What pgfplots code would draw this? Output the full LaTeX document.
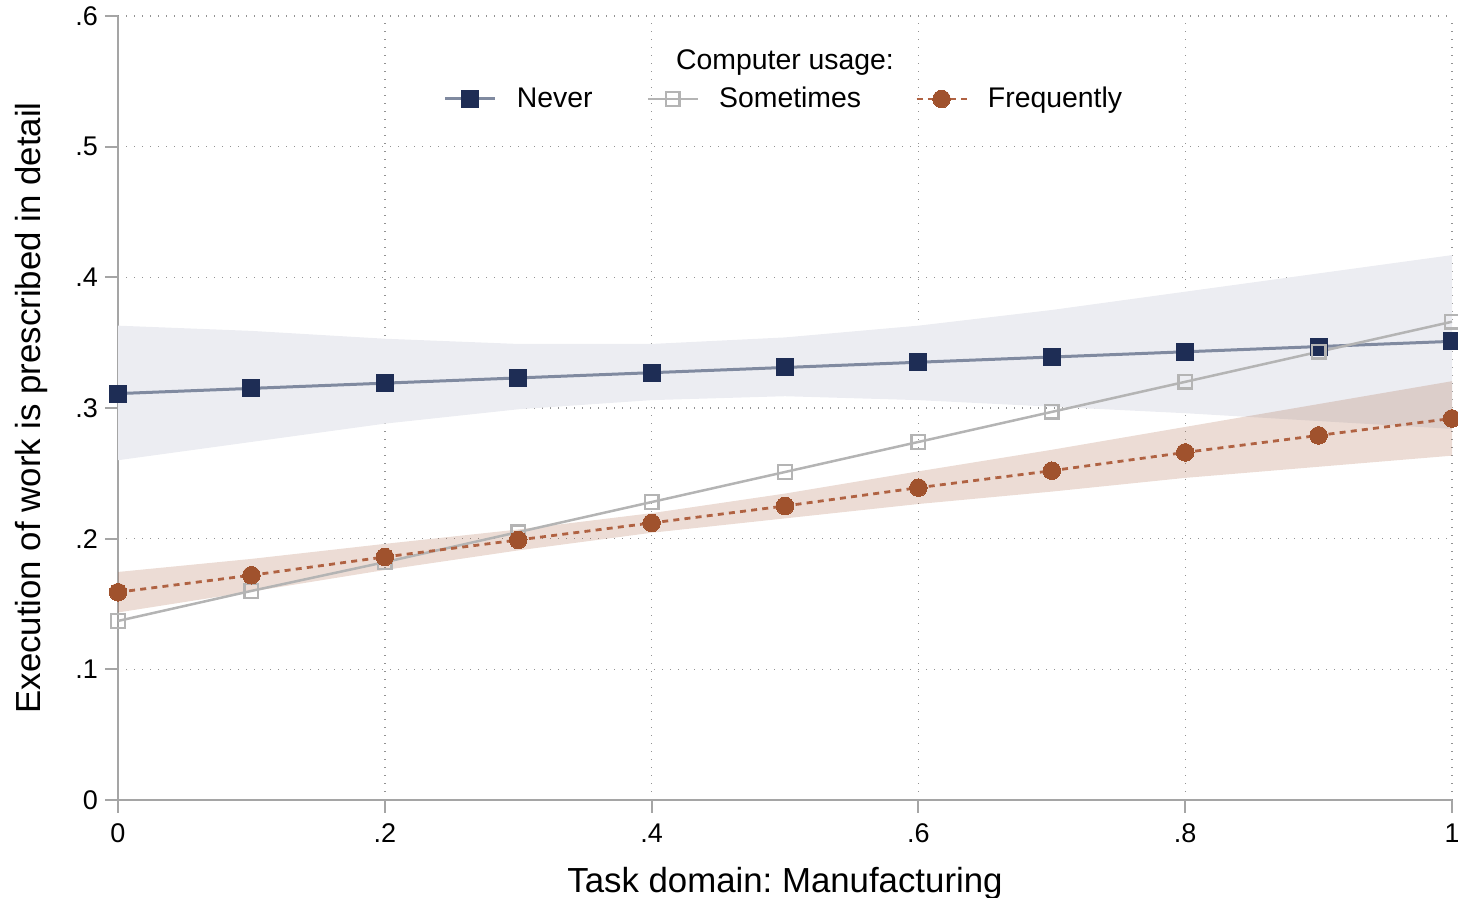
\documentclass[border=0pt]{standalone}
\usepackage{pgfplots}
\pgfplotsset{compat=1.18}
\usepackage{pgfplotstable}
\usepgfplotslibrary{fillbetween}
\usepackage{fontspec}
\setmainfont{Liberation Sans}
\frenchspacing
\definecolor{navy}{RGB}{30,45,85}
\definecolor{neverline}{RGB}{128,138,160}
\definecolor{neverband}{RGB}{236,237,242}
\definecolor{somegray}{RGB}{180,180,180}
\definecolor{sienna}{RGB}{160,82,45}
\definecolor{freqline}{RGB}{176,98,66}
\definecolor{axisgray}{RGB}{165,165,165}
\pgfplotstableread{
x   never nlo   nhi   some  freq  flo    fhi
0   0.311 0.260 0.363 0.137 0.159 0.1435 0.1745
0.1 0.315 0.274 0.359 0.160 0.172 0.1595 0.1845
0.2 0.319 0.288 0.353 0.182 0.186 0.176  0.196
0.3 0.323 0.299 0.349 0.205 0.199 0.191  0.207
0.4 0.327 0.306 0.349 0.228 0.212 0.2045 0.2195
0.5 0.331 0.309 0.354 0.251 0.225 0.2155 0.2345
0.6 0.335 0.306 0.363 0.274 0.239 0.2265 0.2515
0.7 0.339 0.301 0.375 0.297 0.252 0.236  0.268
0.8 0.343 0.296 0.389 0.320 0.266 0.2465 0.2855
0.9 0.347 0.290 0.403 0.343 0.279 0.255  0.303
1   0.351 0.284 0.417 0.366 0.292 0.2635 0.3205
}\data
\begin{document}
\begin{tikzpicture}
\begin{axis}[
  width=667pt, height=392pt, scale only axis,
  xmin=0, xmax=1, ymin=0, ymax=0.6,
  axis x line*=bottom, axis y line*=left,
  axis line style={axisgray, line width=1pt},
  xtick={0,0.2,0.4,0.6,0.8,1}, xticklabels={0,.2,.4,.6,.8,1},
  ytick={0,0.1,0.2,0.3,0.4,0.5,0.6}, yticklabels={0,.1,.2,.3,.4,.5,.6},
  tick align=outside, major tick length=6.5pt,
  tick style={axisgray, line width=1pt},
  grid=major,
  grid style={gray!85, line width=0.7pt, dash pattern=on 0.7pt off 3.3pt},
  ticklabel style={font=\fontsize{13.5}{16}\selectfont},
  xticklabel style={yshift=-2pt},
  xlabel={Task domain: Manufacturing},
  ylabel={Execution of work is prescribed in detail},
  every axis x label/.style={at={(rel axis cs:0.5,0)}, yshift=-42pt, anchor=center,
    font=\fontsize{17.4}{20}\selectfont},
  every axis y label/.style={at={(rel axis cs:0,0.5)}, xshift=-43pt, rotate=90, anchor=center,
    font=\fontsize{17.4}{20}\selectfont},
  clip=false,
  legend columns=3,
  legend style={at={(axis cs:0.5,0.5365)}, anchor=center, draw=none, fill=none,
    font=\fontsize{14.2}{16}\selectfont,
    /tikz/every odd column/.append style={column sep=8pt},
    /tikz/every even column/.append style={column sep=25pt}},
  legend cell align=left,
  legend image code/.code={\draw[mark repeat=2,mark phase=2] plot coordinates {(0pt,0pt)(12.5pt,0pt)(25pt,0pt)};},
]
\coordinate (SW) at (rel axis cs:0,0);
\coordinate (NE) at (rel axis cs:1,1);
% bands
\addplot[name path=nhi, draw=none, forget plot] table[x=x,y=nhi]{\data};
\addplot[name path=nlo, draw=none, forget plot] table[x=x,y=nlo]{\data};
\addplot[neverband, forget plot] fill between[of=nhi and nlo];
\addplot[name path=fhi, draw=none, forget plot] table[x=x,y=fhi]{\data};
\addplot[name path=flo, draw=none, forget plot] table[x=x,y=flo]{\data};
\addplot[sienna, fill opacity=0.2, forget plot] fill between[of=fhi and flo];
% lines
\addplot[neverline, line width=1.5pt, mark=square*, mark size=4.25pt,
  mark options={navy, fill=navy, solid, line width=0pt}] table[x=x,y=never]{\data};
\addlegendentry{Never}
\addplot[somegray, line width=1.25pt, mark=square, mark size=3.4pt,
  mark options={somegray, solid, line width=1.2pt, fill=white}] table[x=x,y=some]{\data};
\addlegendentry{Sometimes}
\addplot[freqline, line width=1.4pt, dash pattern=on 3pt off 2.6pt, mark=*, mark size=4.4pt,
  mark options={sienna, fill=sienna, solid, line width=0pt}] table[x=x,y=freq]{\data};
\addlegendentry{Frequently}
\node[font=\fontsize{14.2}{16}\selectfont, anchor=center] at (axis cs:0.5,0.5645) {Computer usage:};
\end{axis}
\pgfresetboundingbox
\path[use as bounding box] ([shift={(-59pt,-49pt)}]SW) rectangle ([shift={(3pt,8pt)}]NE);
\end{tikzpicture}
\end{document}
